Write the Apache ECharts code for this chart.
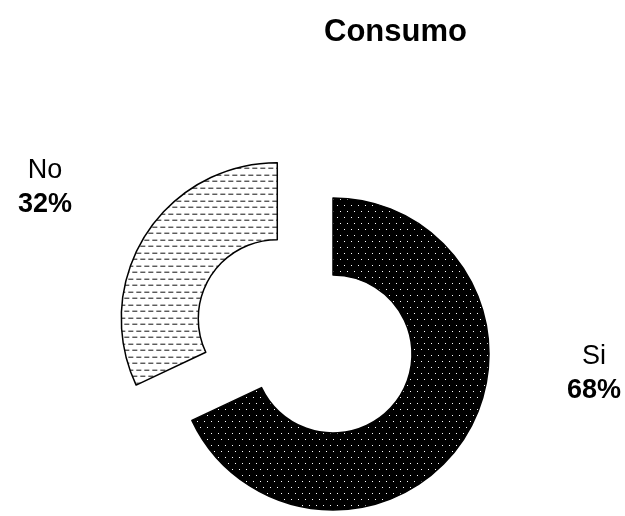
<!DOCTYPE html>
<html><head><meta charset="utf-8">
<script src="https://cdn.jsdelivr.net/npm/echarts@6/dist/echarts.min.js"></script>
<style>html,body{margin:0;padding:0;background:#fff}#c{width:625px;height:516px}</style>
</head><body><div id="c"></div>
<script>
const categories = ['Si', 'No'];
const values = [68, 32];
const titleText = 'Consumo';

function dotPattern() {
  const c = document.createElement('canvas');
  c.width = 7; c.height = 12;
  const g = c.getContext('2d');
  g.fillStyle = '#000'; g.fillRect(0, 0, 7, 12);
  g.fillStyle = '#fff';
  g.fillRect(1, 1, 1, 1);
  g.fillRect(4, 7, 1, 1);
  return c;
}
function dashPattern() {
  const c = document.createElement('canvas');
  c.width = 8; c.height = 13;
  const g = c.getContext('2d');
  g.fillStyle = '#fff'; g.fillRect(0, 0, 8, 13);
  g.fillStyle = '#111';
  g.fillRect(0, 2, 5, 1);
  g.fillRect(4, 8, 4, 1);
  g.fillRect(0, 8, 1, 1);
  return c;
}
const fills = [
  { image: dotPattern(), repeat: 'repeat' },
  { image: dashPattern(), repeat: 'repeat' }
];
// desired label centres
const labelPos = [[594, 374], [45, 188]];
const explodeOffset = 66;
const total = values.reduce((a, b) => a + b, 0);

const chart = echarts.init(document.getElementById('c'), null, { renderer: 'canvas' });
chart.setOption({
  animation: false,
  title: {
    text: titleText, left: 319, top: 12,
    textStyle: { fontFamily: 'Liberation Sans, Arial', fontWeight: 'bold', fontSize: 31, color: '#000' }
  },
  series: [{
    type: 'pie',
    center: [333, 354],
    radius: [79, 156],
    startAngle: 90,
    clockwise: true,
    selectedMode: 'single',
    selectedOffset: explodeOffset,
    avoidLabelOverlap: false,
    itemStyle: { borderColor: '#000', borderWidth: 1.5 },
    label: {
      show: true,
      position: 'outside',
      formatter: '{n|{b}}\n{p|{d}%}',
      rich: {
        n: { fontFamily: 'Liberation Sans, Arial', fontSize: 27, color: '#000', lineHeight: 34, align: 'center' },
        p: { fontFamily: 'Liberation Sans, Arial', fontSize: 27, fontWeight: 'bold', color: '#000', lineHeight: 34, align: 'center' }
      }
    },
    labelLine: { show: false },
    labelLayout: function (params) {
      const i = params.dataIndex;
      const p = labelPos[i];
      const r = params.labelRect;
      let dx = p[0] - (r.x + r.width / 2);
      let dy = p[1] - (r.y + r.height / 2);
      if (categories[i] === 'No') {
        // the reported rect excludes the explode shift that is applied afterwards
        let before = 0;
        for (let k = 0; k < i; k++) before += values[k];
        const mid = (before + values[i] / 2) / total * 2 * Math.PI;
        dx -= explodeOffset * Math.sin(mid);
        dy += explodeOffset * Math.cos(mid);
      }
      return { dx: dx, dy: dy };
    },
    emphasis: { disabled: true },
    data: categories.map((name, i) => ({
      name: name,
      value: values[i],
      selected: name === 'No',
      itemStyle: { color: fills[i] }
    }))
  }]
});
</script></body></html>
